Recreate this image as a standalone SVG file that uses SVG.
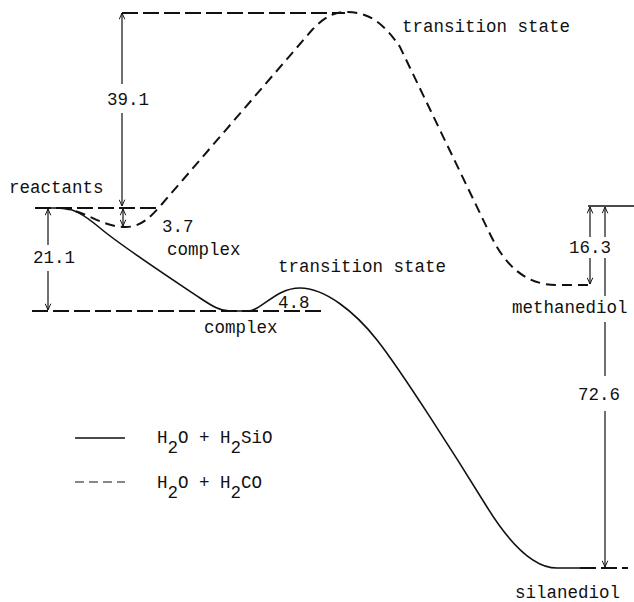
<svg xmlns="http://www.w3.org/2000/svg" width="634" height="602" viewBox="0 0 634 602">
<style>
text{font-family:"Liberation Mono","DejaVu Sans Mono",monospace;font-size:17.5px;fill:#111}
.solid{fill:none;stroke:#111;stroke-width:1.6}
.dcurve{fill:none;stroke:#111;stroke-width:2;stroke-dasharray:10,6}
.dlevel{fill:none;stroke:#111;stroke-width:2;stroke-dasharray:16,5}
.dim{fill:none;stroke:#111;stroke-width:1.2}
</style>
<defs>
<marker id="ah" viewBox="0 0 10 10" refX="10" refY="5" markerWidth="7" markerHeight="7" markerUnits="userSpaceOnUse" orient="auto-start-reverse">
<path d="M1,1 L10,5 L1,9" fill="none" stroke="#111" stroke-width="1.4"/>
</marker>
</defs>
<rect width="634" height="602" fill="#fff"/>

<g id="levels">
<line class="dlevel" x1="122" y1="13" x2="345" y2="13"/>
<line class="dlevel" x1="35" y1="208" x2="158" y2="208"/>
<line class="dlevel" x1="32" y1="311" x2="325" y2="311"/>
<line class="solid" x1="588" y1="206" x2="634" y2="206"/>
<path class="dlevel" d="M580 568 L628 568"/>
</g>

<g id="curve-H2SiO">
<path class="solid" d="M35 208 L60 208 C72 208,82 213,100 228 C120 245,170 278,200 298 C212 306,220 311,230 311 L247 311 C262 311,275 288,300 288 C325 288,355 312,377 340 C400 369,455 455,487 507 C505 536,530 568,557 568 L580 568"/>
</g>
<g id="curve-H2CO">
<path class="dcurve" d="M60 208 C85 210,100 226,123 227 C140 228,150 218,162 204 L312 30 C325 16,335 12,347 12 C370 12,385 25,400 47 L490 234 C505 265,525 285,557 285 L592 285"/>
</g>

<g id="connectors">
<line class="dim" x1="122" y1="13" x2="122" y2="84" marker-start="url(#ah)"/>
<line class="dim" x1="122" y1="113" x2="122" y2="206" marker-end="url(#ah)"/>
<line class="dim" x1="123" y1="209" x2="123" y2="226" marker-start="url(#ah)" marker-end="url(#ah)"/>
<line class="dim" x1="48" y1="209" x2="48" y2="245" marker-start="url(#ah)"/>
<line class="dim" x1="48" y1="271" x2="48" y2="310" marker-end="url(#ah)"/>
<line class="dim" x1="590" y1="207" x2="590" y2="237" marker-start="url(#ah)"/>
<line class="dim" x1="590" y1="258" x2="590" y2="284" marker-end="url(#ah)"/>
<line class="dim" x1="605" y1="207" x2="605" y2="237" marker-start="url(#ah)"/>
<line class="dim" x1="605" y1="258" x2="605" y2="296"/>
<line class="dim" x1="605" y1="322" x2="605" y2="376"/>
<line class="dim" x1="605" y1="411" x2="605" y2="567" marker-end="url(#ah)"/>
</g>

<g id="reactants"><text x="9" y="193">reactants</text></g>
<g id="label-39"><text x="107" y="105">39.1</text></g>
<g id="label-37"><text x="162" y="232">3.7</text></g>
<g id="label-21"><text x="33" y="263">21.1</text></g>
<g id="complex-CO"><text x="167" y="255">complex</text></g>
<g id="ts-CO"><text x="402" y="32">transition state</text></g>
<g id="ts-SiO"><text x="278" y="272">transition state</text></g>
<g id="label-48"><text x="278" y="308">4.8</text></g>
<g id="complex-SiO"><text x="204" y="333">complex</text></g>
<g id="label-163"><text x="569" y="253">16.3</text></g>
<g id="methanediol"><text x="512" y="313">methanediol</text></g>
<g id="label-726"><text x="578" y="400">72.6</text></g>
<g id="silanediol"><text x="515" y="598">silanediol</text></g>

<g id="legend">
<line class="solid" x1="75" y1="438" x2="125" y2="438"/>
<line class="dim" x1="75" y1="482" x2="125" y2="482" stroke-width="2" stroke-dasharray="9,5"/>
<text x="157" y="443">H<tspan dy="10">2</tspan><tspan dy="-10">O + H</tspan><tspan dy="10">2</tspan><tspan dy="-10">SiO</tspan></text>
<text x="157" y="488">H<tspan dy="10">2</tspan><tspan dy="-10">O + H</tspan><tspan dy="10">2</tspan><tspan dy="-10">CO</tspan></text>
</g>
</svg>
